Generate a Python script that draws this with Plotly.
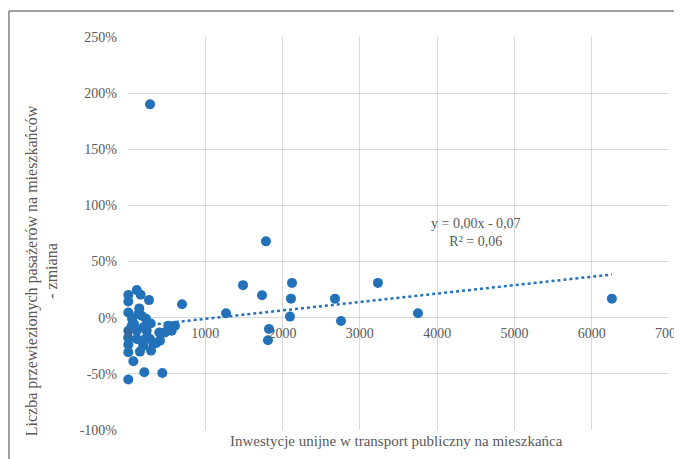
import plotly.graph_objects as go

# Investment per inhabitant (x) and change in passengers per inhabitant (y)
invest = [113, 164, 4, 4, 272, 146, 4, 133, 177, 78, 48, 294, 198, 113, 4, 242, 405, 521,
          565, 608, 479, 177, 285, 327, 198, 4, 113, 4, 155, 298, 362, 69, 211, 444, 4,
          2, 52, 233, 414, 246,
          285, 1785, 1488, 1734, 2122, 2109, 2096, 1824, 1811, 2678, 2756, 3234, 3752,
          6261, 1268, 699]
change = [0.246, 0.204, 0.202, 0.145, 0.157, 0.083, 0.047, 0.033, 0.018, -0.056, -0.071,
          -0.051, -0.086, -0.116, -0.116, -0.116, -0.131, -0.071, -0.116, -0.071, -0.131,
          -0.204, -0.189, -0.228, -0.249, -0.24, -0.189, -0.308, -0.302, -0.293, -0.228,
          -0.388, -0.486, -0.492, -0.551,
          -0.178, -0.009, -0.009, -0.204, -0.169,
          1.90, 0.68, 0.29, 0.20, 0.31, 0.17, 0.01, -0.10, -0.20, 0.17, -0.03, 0.31, 0.04,
          0.17, 0.04, 0.12]

trend_slope = 7.5e-5
trend_intercept = -0.085
trend_x = [0, max(invest)]
trend_y = [trend_intercept + trend_slope * v for v in trend_x]

x_ticks = [0, 1000, 2000, 3000, 4000, 5000, 6000, 7000]
x_labels = ["0", "1000", "2000", "3000", "4000", "5000", "6000", "7000"]
y_ticks = [-1, -0.5, 0, 0.5, 1, 1.5, 2, 2.5]
y_labels = ["-100%", "-50%", "0%", "50%", "100%", "150%", "200%", "250%"]

FONT = "Liberation Serif"
GRAY = "#595959"
BLUE = "#2372b9"

fig = go.Figure()
fig.add_trace(go.Scatter(
    x=trend_x, y=trend_y, mode="lines",
    line=dict(color=BLUE, width=2.5, dash="dot"),
    hoverinfo="skip", showlegend=False))
fig.add_trace(go.Scatter(
    x=invest, y=change, mode="markers",
    marker=dict(color=BLUE, size=10, line=dict(width=0)),
    cliponaxis=False, showlegend=False))

fig.update_layout(
    width=690, height=451,
    margin=dict(l=120, r=29, t=29, b=29, autoexpand=False),
    paper_bgcolor="white", plot_bgcolor="white",
    font=dict(family=FONT, size=14, color=GRAY),
    xaxis=dict(range=[0, 7000], tickvals=x_ticks, ticktext=x_labels,
               showgrid=True, gridcolor="#d9d9d9", gridwidth=1,
               zeroline=False, showline=False, ticks="",
               anchor="free", position=1/3.5, ticklabelstandoff=5,
               automargin=False, ticklabeloverflow="allow",
               tickfont=dict(family=FONT, size=14, color=GRAY)),
    yaxis=dict(range=[-1, 2.5], tickvals=y_ticks, ticktext=y_labels,
               showgrid=True, gridcolor="#d9d9d9", gridwidth=1,
               zeroline=False, showline=False, ticks="",
               ticklabelstandoff=10, automargin=False,
               tickfont=dict(family=FONT, size=14, color=GRAY)),
    shapes=[
        dict(type="line", xref="paper", yref="paper", x0=-0.22, x1=1.05, y0=1.066, y1=1.066,
             line=dict(color="#808080", width=1.5)),
        dict(type="line", xref="paper", yref="paper", x0=-0.22, x1=-0.22, y0=1.066, y1=-0.12,
             line=dict(color="#808080", width=1.5)),
    ],
    annotations=[
        dict(text="Liczba przewiezionych pasażerów na mieszkańców<br>- zmiana",
             xref="paper", yref="paper", x=-0.16, y=0.405, textangle=-90,
             showarrow=False, xanchor="center", yanchor="middle",
             font=dict(family=FONT, size=16, color=GRAY)),
        dict(text="Inwestycje unijne w transport publiczny na mieszkańca",
             xref="paper", yref="paper", x=0.497, y=-0.027,
             showarrow=False, xanchor="center", yanchor="middle",
             font=dict(family=FONT, size=15, color=GRAY)),
        dict(text="y = 0,00x - 0,07<br>R² = 0,06",
             xref="paper", yref="paper", x=0.643, y=0.503,
             showarrow=False, xanchor="center", yanchor="middle", align="center",
             font=dict(family=FONT, size=14, color=GRAY)),
    ],
)

fig.write_html("out.html")
